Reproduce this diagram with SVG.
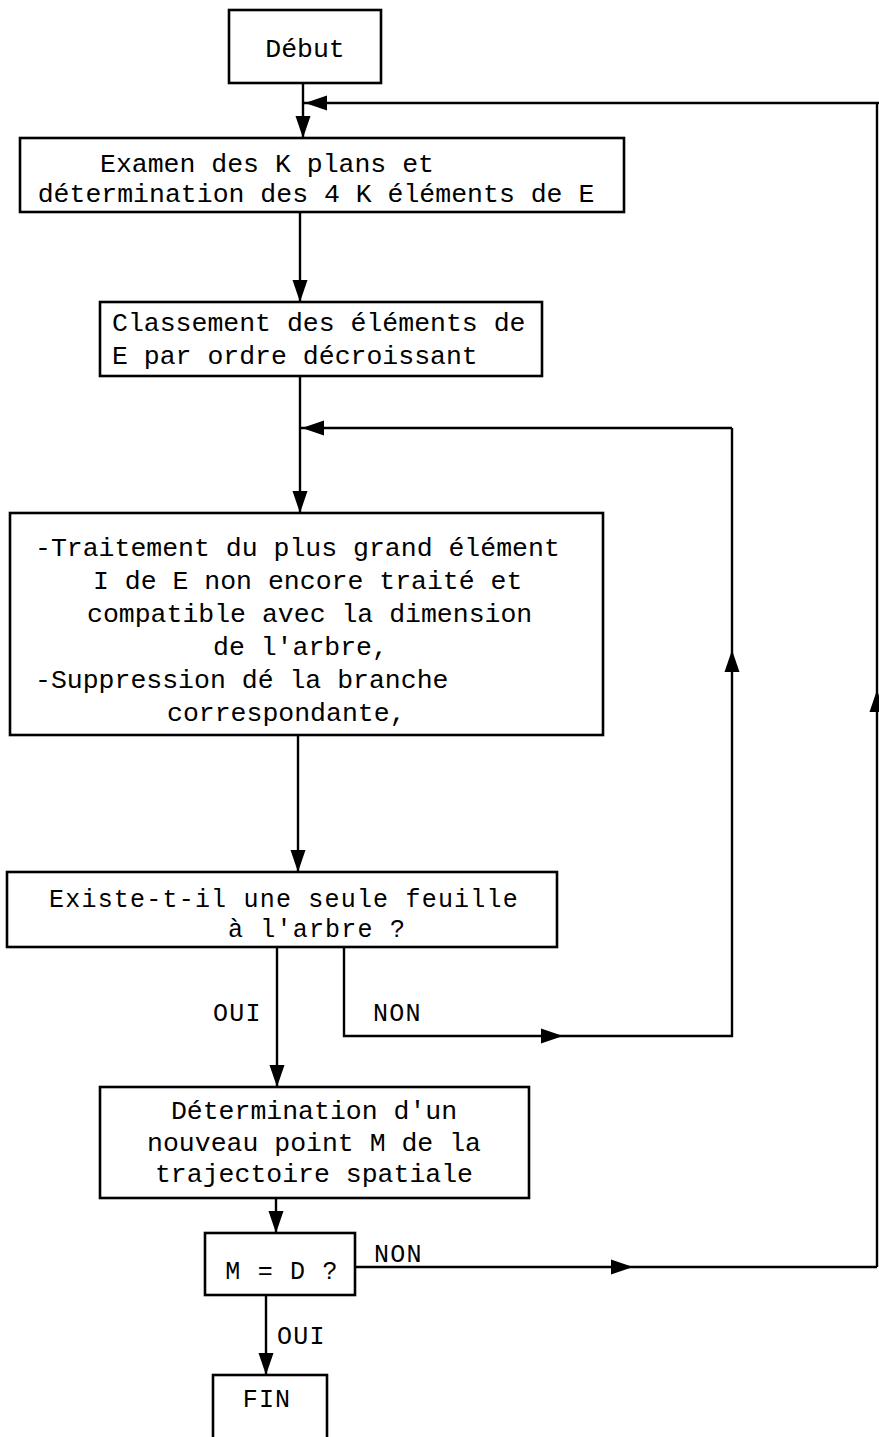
<svg xmlns="http://www.w3.org/2000/svg" xmlns:xlink="http://www.w3.org/1999/xlink" width="879" height="1437" viewBox="0 0 879 1437">
<style>
.box{fill:#fff;stroke:#000;stroke-width:2.6}
.ln{fill:none;stroke:#000;stroke-width:2.4}
.t{font-family:"Liberation Mono","DejaVu Sans Mono",monospace;font-size:26.5px;fill:#000}
.c{font-family:"Liberation Mono","DejaVu Sans Mono",monospace;font-size:25px;letter-spacing:1.2px;fill:#000}
</style>
<defs>
<path id="ah" d="M0,0 L-22,-7.5 L-22,7.5 Z" fill="#000"/>
</defs>
<rect width="879" height="1437" fill="#fff"/>
<g id="connectors">
<path class="ln" d="M303,83 V138"/>
<path class="ln" d="M879,103 H303"/>
<path class="ln" d="M877,1267 V103"/>
<path class="ln" d="M300,212 V302"/>
<path class="ln" d="M300,376 V513"/>
<path class="ln" d="M732,428 H300"/>
<path class="ln" d="M298,735 V872"/>
<path class="ln" d="M277,947 V1087"/>
<path class="ln" d="M344,947 V1036 H732 V428"/>
<path class="ln" d="M276,1198 V1233"/>
<path class="ln" d="M266,1295 V1375"/>
<path class="ln" d="M355,1267 H877"/>
<use xlink:href="#ah" transform="translate(303,138) rotate(90)"/>
<use xlink:href="#ah" transform="translate(305,103) rotate(180)"/>
<use xlink:href="#ah" transform="translate(877,690) rotate(-90)"/>
<use xlink:href="#ah" transform="translate(300,302) rotate(90)"/>
<use xlink:href="#ah" transform="translate(300,513) rotate(90)"/>
<use xlink:href="#ah" transform="translate(302,428) rotate(180)"/>
<use xlink:href="#ah" transform="translate(298,872) rotate(90)"/>
<use xlink:href="#ah" transform="translate(277,1087) rotate(90)"/>
<use xlink:href="#ah" transform="translate(563,1036)"/>
<use xlink:href="#ah" transform="translate(732,650) rotate(-90)"/>
<use xlink:href="#ah" transform="translate(276,1233) rotate(90)"/>
<use xlink:href="#ah" transform="translate(266,1375) rotate(90)"/>
<use xlink:href="#ah" transform="translate(633,1267)"/>
<text class="c" x="213" y="1021">OUI</text>
<text class="c" x="373" y="1021">NON</text>
<text class="c" x="374" y="1262">NON</text>
<text class="c" x="277" y="1344">OUI</text>
</g>
<g id="debut">
<rect class="box" x="229" y="10" width="152" height="73"/>
<text class="t" x="305" y="57" text-anchor="middle">Début</text>
</g>
<g id="examen">
<rect class="box" x="20" y="138" width="604" height="74"/>
<text class="t" x="100" y="172">Examen des K plans et</text>
<text class="t" x="316" y="202" text-anchor="middle">détermination des 4 K éléments de E</text>
</g>
<g id="classement">
<rect class="box" x="100" y="302" width="442" height="74"/>
<text class="t" x="112" y="331">Classement des éléments de</text>
<text class="t" x="112" y="364">E par ordre décroissant</text>
</g>
<g id="traitement">
<rect class="box" x="10" y="513" width="593" height="222"/>
<text class="t" x="35" y="556">-Traitement du plus grand élément</text>
<text class="t" x="93" y="589">I de E non encore traité et</text>
<text class="t" x="87" y="622">compatible avec la dimension</text>
<text class="t" x="213" y="655">de l'arbre,</text>
<text class="t" x="35" y="688">-Suppression dé la branche</text>
<text class="t" x="167" y="721">correspondante,</text>
</g>
<g id="feuille">
<rect class="box" x="7" y="872" width="550" height="75"/>
<text class="c" x="284" y="907" text-anchor="middle">Existe-t-il une seule feuille</text>
<text class="c" x="317" y="937" text-anchor="middle">à l'arbre ?</text>
</g>
<g id="nouveau-point">
<rect class="box" x="100" y="1087" width="429" height="111"/>
<text class="t" x="314" y="1119" text-anchor="middle">Détermination d'un</text>
<text class="t" x="314" y="1151" text-anchor="middle">nouveau point M de la</text>
<text class="t" x="314" y="1182" text-anchor="middle">trajectoire spatiale</text>
</g>
<g id="test-md">
<rect class="box" x="205" y="1233" width="150" height="62"/>
<text class="c" x="282" y="1279" text-anchor="middle">M = D ?</text>
</g>
<g id="fin">
<rect class="box" x="213" y="1375" width="114" height="80"/>
<text class="c" x="267" y="1407" text-anchor="middle">FIN</text>
</g>
</svg>
